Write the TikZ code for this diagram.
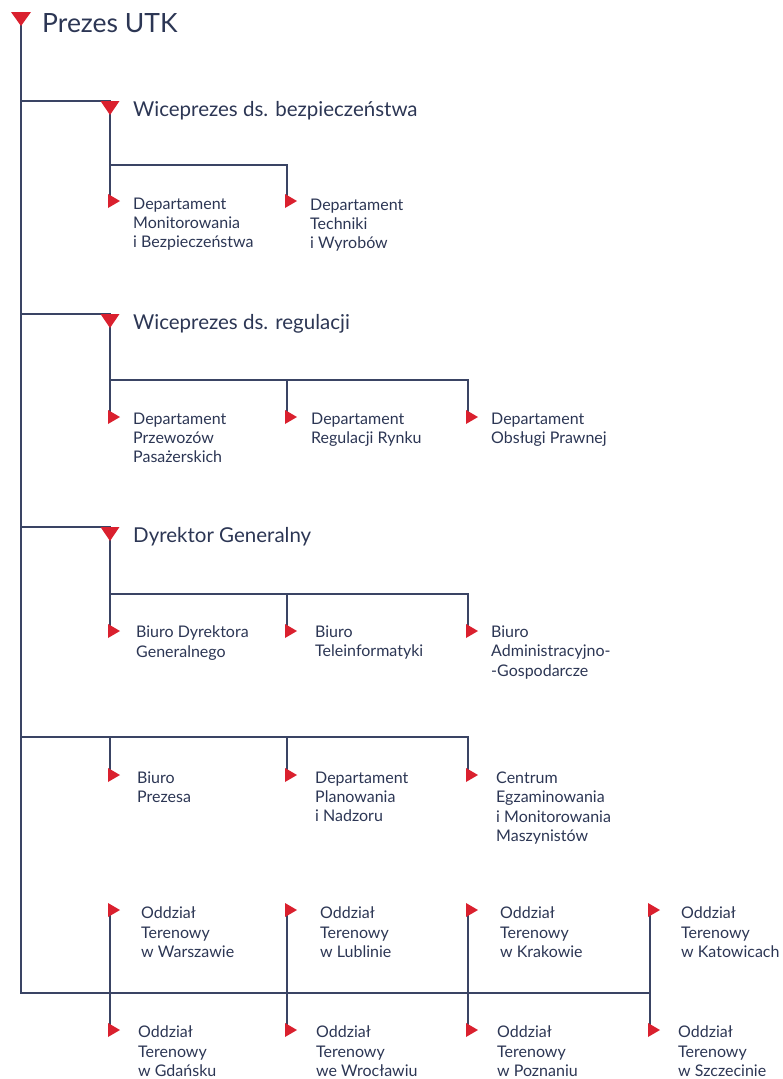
\documentclass[tikz,border=0pt]{standalone}
\usepackage{fontspec}
\setmainfont{Lato}
\definecolor{utkline}{RGB}{58,68,100}
\definecolor{utktext}{RGB}{44,54,84}
\definecolor{utkred}{RGB}{218,32,46}
\newcommand{\tridown}[2]{\fill[utkred] (#1) ++(-#2,0) -- ++(2*#2,0) -- ++(-#2,14) -- cycle;}
\newcommand{\triright}[1]{\fill[utkred] (#1) ++(-2,-7) -- ++(0,14) -- ++(12,-7) -- cycle;}
\begin{document}
\begin{tikzpicture}[x=1pt,y=-1pt,
    line/.style={draw=utkline,line width=1.5pt},
    top/.style={font=\fontsize{26.5}{30}\selectfont,text=utktext,anchor=base west,inner sep=0},
    head/.style={font=\fontsize{20.5}{24}\selectfont,text=utktext,anchor=base west,inner sep=0},
    unit/.style={font=\fontsize{16}{19.1}\selectfont,text=utktext,anchor=north west,align=left,inner sep=0,
                 execute at begin node={\rule{0pt}{12pt}}}
                   ]
    \useasboundingbox (0,0) rectangle (783,1079);

    \coordinate (tp) at (21,12);
    \coordinate (tb) at (110,101);
    \coordinate (tr) at (110,314);
    \coordinate (tg) at (110,527);
    \coordinate (hb) at (110,165);
    \coordinate (hr) at (110,380);
    \coordinate (hg) at (110,594);
    \coordinate (hd) at (21,737);
    \coordinate (he) at (21,993);
    \coordinate (a1) at (110,201);
    \coordinate (a2) at (287,201);
    \coordinate (b1) at (110,417);
    \coordinate (b2) at (287,417);
    \coordinate (b3) at (468,417);
    \coordinate (c1) at (110,631);
    \coordinate (c2) at (287,631);
    \coordinate (c3) at (468,631);
    \coordinate (d1) at (110,775);
    \coordinate (d2) at (287,775);
    \coordinate (d3) at (468,775);
    \coordinate (e1) at (110,910);
    \coordinate (e2) at (287,910);
    \coordinate (e3) at (468,910);
    \coordinate (e4) at (650,910);
    \coordinate (f1) at (110,1030);
    \coordinate (f2) at (287,1030);
    \coordinate (f3) at (468,1030);
    \coordinate (f4) at (650,1030);

    \draw[line] (tp) -- (he) -- (he -| f4);
    \draw[line] (tp |- tb) -- (tb) -- (a1);
    \draw[line] (tp |- tr) -- (tr) -- (b1);
    \draw[line] (tp |- tg) -- (tg) -- (c1);
    \draw[line] (hb) -| (a2);
    \draw[line] (hr) -| (b3);
    \draw[line] (hr -| b2) -- (b2);
    \draw[line] (hg) -| (c3);
    \draw[line] (hg -| c2) -- (c2);
    \draw[line] (hd) -| (d3);
    \draw[line] (hd -| d1) -- (d1);
    \draw[line] (hd -| d2) -- (d2);
    \foreach \i in {1,...,4}
      \draw[line] (e\i) -- (f\i);

    \tridown{tp}{10}
    \tridown{tb}{9.5}
    \tridown{tr}{9.5}
    \tridown{tg}{9.5}
    \foreach \n in {a1,a2,b1,b2,b3,c1,c2,c3,d1,d2,d3,e1,e2,e3,e4,f1,f2,f3,f4}
      {\triright{\n}}

    \node[top] (w0) at (42,32) {Prezes UTK};
    \node[head] (w1) at (133,116) {Wiceprezes ds. bezpieczeństwa};
    \node[head] (w2) at (133,329) {Wiceprezes ds. regulacji};
    \node[head] (w3) at (133,542) {Dyrektor Generalny};

    \node[unit] (na1) at (133,198) {Departament\\Monitorowania\\i Bezpieczeństwa};
    \node[unit] (na2) at (310,199) {Departament\\Techniki\\i Wyrobów};
    \node[unit] (nb1) at (133,413) {Departament\\Przewozów\\Pasażerskich};
    \node[unit] (nb2) at (311,413) {Departament\\Regulacji Rynku};
    \node[unit] (nb3) at (491,413) {Departament\\Obsługi Prawnej};
    \node[unit] (nc1) at (136,626) {Biuro Dyrektora\\Generalnego};
    \node[unit] (nc2) at (315,626) {Biuro\\Teleinformatyki};
    \node[unit] (nc3) at (491,626) {Biuro\\Administracyjno-\\-Gospodarcze};
    \node[unit] (nd1) at (137,772) {Biuro\\Prezesa};
    \node[unit] (nd2) at (315,772) {Departament\\Planowania\\i Nadzoru};
    \node[unit] (nd3) at (496,772) {Centrum\\Egzaminowania\\i Monitorowania\\Maszynistów};
    \node[unit] (ne1) at (141,907) {Oddział\\Terenowy\\w Warszawie};
    \node[unit] (ne2) at (320,907) {Oddział\\Terenowy\\w Lublinie};
    \node[unit] (ne3) at (500,907) {Oddział\\Terenowy\\w Krakowie};
    \node[unit] (ne4) at (681,907) {Oddział\\Terenowy\\w Katowicach};
    \node[unit] (nf1) at (138,1026) {Oddział\\Terenowy\\w Gdańsku};
    \node[unit] (nf2) at (316,1026) {Oddział\\Terenowy\\we Wrocławiu};
    \node[unit] (nf3) at (497,1026) {Oddział\\Terenowy\\w Poznaniu};
    \node[unit] (nf4) at (678,1026) {Oddział\\Terenowy\\w Szczecinie};

\end{tikzpicture}
\end{document}
